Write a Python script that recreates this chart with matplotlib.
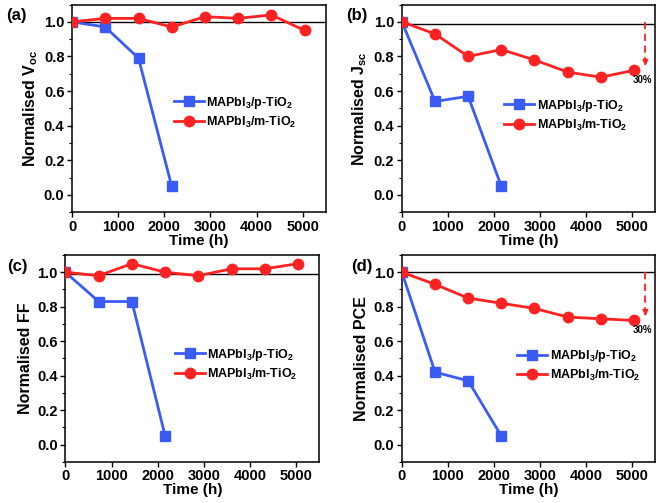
import numpy as np
import matplotlib
matplotlib.use("Agg")
import matplotlib.pyplot as plt
from matplotlib.ticker import MultipleLocator

# --------------------------------------------
# Fonts
# --------------------------------------------

plt.rcParams["font.family"] = ["Liberation Sans", "DejaVu Sans"]
plt.rcParams["font.weight"] = "bold"
plt.rcParams["axes.labelweight"] = "bold"
plt.rcParams["mathtext.fontset"] = "custom"
plt.rcParams["mathtext.rm"] = "Liberation Sans:bold"
plt.rcParams["mathtext.bf"] = "Liberation Sans:bold"
plt.rcParams["mathtext.default"] = "bf"

# --------------------------------------------
# Data
# --------------------------------------------

time_p = [0, 720, 1440, 2160]
time_m = [0, 720, 1440, 2160, 2880, 3600, 4320, 5040]

voc_p = [1.0, 0.97, 0.79, 0.05]
voc_m = [1.0, 1.02, 1.02, 0.97, 1.03, 1.02, 1.04, 0.95]

jsc_p = [1.0, 0.54, 0.57, 0.05]
jsc_m = [1.0, 0.93, 0.80, 0.84, 0.78, 0.71, 0.68, 0.72]

ff_p = [1.0, 0.83, 0.83, 0.05]
ff_m = [1.0, 0.98, 1.05, 1.0, 0.98, 1.02, 1.02, 1.05]

pce_p = [1.0, 0.42, 0.37, 0.05]
pce_m = [1.0, 0.93, 0.85, 0.82, 0.79, 0.74, 0.73, 0.72]

ylabels = [
    "Normalised V$_{oc}$",
    "Normalised J$_{sc}$",
    "Normalised FF",
    "Normalised PCE"
]

panel_tags = ["(a)", "(b)", "(c)", "(d)"]

label_p = "MAPbI$_3$/p-TiO$_2$"
label_m = "MAPbI$_3$/m-TiO$_2$"

# --------------------------------------------
# Figure
# --------------------------------------------

fig = plt.figure(figsize=(6.61, 5.03), dpi=100)

positions = [
    [0.109, 0.578, 0.384, 0.413],
    [0.608, 0.578, 0.383, 0.413],
    [0.099, 0.082, 0.384, 0.411],
    [0.608, 0.082, 0.383, 0.411]
]

series = [
    (voc_p, voc_m),
    (jsc_p, jsc_m),
    (ff_p, ff_m),
    (pce_p, pce_m)
]

ref_lines = [1.0, 0.99, 0.99, 1.0]
tag_x = [-0.26, -0.22, -0.23, -0.20]
legend_anchor = [(0.38, 0.59), (0.385, 0.575), (0.41, 0.58), (0.435, 0.575)]

blue = "#3a5cf5"
red = "#ff2222"

for i in range(4):

    ax = fig.add_axes(positions[i])

    yp, ym = series[i]

    ax.axhline(ref_lines[i], color="black", linewidth=1.0, zorder=1)

    ax.plot(
        time_p, yp,
        color=blue, marker="s", markersize=7,
        linewidth=2, label=label_p, zorder=3
    )

    ax.plot(
        time_m, ym,
        color=red, marker="o", markersize=7.5,
        linewidth=2, label=label_m, zorder=3
    )

    ax.set_xlim(0, 5500)
    ax.set_ylim(-0.1, 1.1)

    ax.set_xticks([0, 1000, 2000, 3000, 4000, 5000])
    ax.set_yticks([0.0, 0.2, 0.4, 0.6, 0.8, 1.0])
    ax.set_yticklabels(["0.0", "0.2", "0.4", "0.6", "0.8", "1.0"])
    ax.yaxis.set_minor_locator(MultipleLocator(0.1))

    ax.tick_params(
        which="major", direction="out", length=3.5, width=1,
        labelsize=10.5, pad=2, top=False, right=False
    )
    ax.tick_params(which="minor", direction="out", length=2, width=0.8)

    for spine in ax.spines.values():
        spine.set_linewidth(1.1)

    ax.set_xlabel("Time (h)", fontsize=11, labelpad=0)
    ax.set_ylabel(ylabels[i], fontsize=11.5, labelpad=3)

    ax.text(
        tag_x[i], 0.945, panel_tags[i],
        transform=ax.transAxes, fontsize=12,
        fontweight="bold", ha="left", va="center"
    )

    ax.legend(
        loc="upper left",
        bbox_to_anchor=legend_anchor[i],
        frameon=False,
        fontsize=9,
        handlelength=2.4,
        handletextpad=0.2,
        labelspacing=0.3,
        borderaxespad=0
    )

    # 30% drop arrow on Jsc and PCE panels
    if i in (1, 3):
        ax.plot(
            [5290, 5290], [1.0, ym[-1] + 0.05],
            color=red, linestyle="--", linewidth=1.3,
            dashes=(4, 2.5), zorder=2
        )
        ax.annotate(
            "",
            xy=(5290, ym[-1] + 0.01),
            xytext=(5290, ym[-1] + 0.06),
            arrowprops=dict(
                arrowstyle="-|>", color=red,
                linewidth=1.2, mutation_scale=8
            )
        )
        ax.text(
            5230, ym[-1] - 0.055, "30%",
            fontsize=7, fontweight="bold", ha="center", va="center"
        )

plt.savefig("out.png", dpi=100)
